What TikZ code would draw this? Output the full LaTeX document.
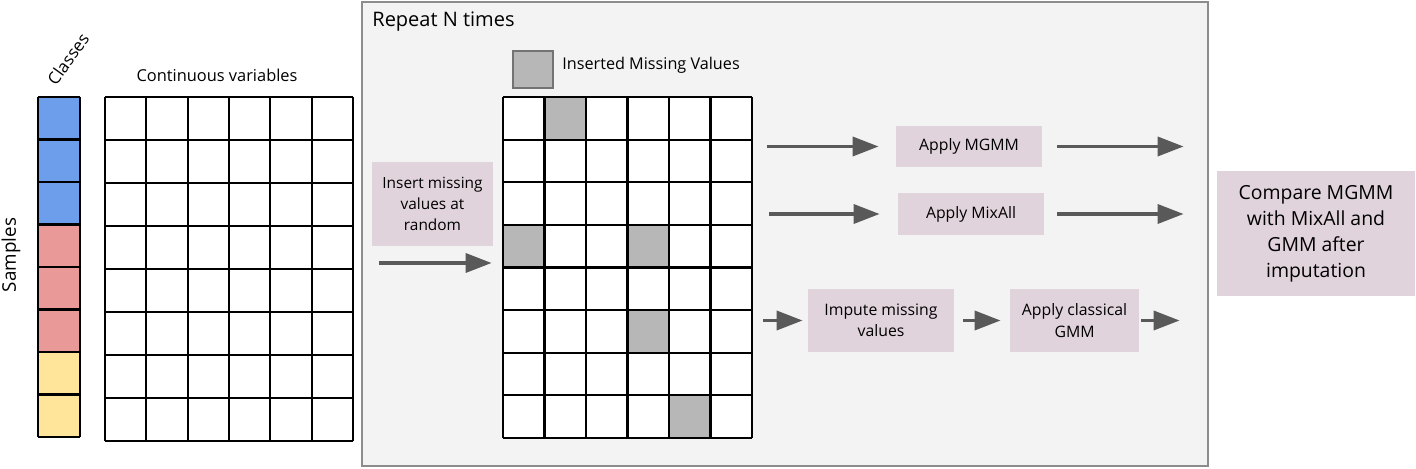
\documentclass[tikz,border=0pt]{standalone}
\usepackage{fontspec}
\setmainfont{Open Sans}
\usetikzlibrary{arrows.meta}
\definecolor{cblue}{HTML}{6D9EEB}
\definecolor{cred}{HTML}{EA9999}
\definecolor{cyellow}{HTML}{FFE599}
\definecolor{stepfill}{HTML}{E1D3DC}
\definecolor{panelfill}{HTML}{F3F3F3}
\definecolor{panelline}{HTML}{8C8C8C}
\definecolor{missfill}{HTML}{B7B7B7}
\definecolor{arrowcol}{HTML}{595959}
\tikzset{
  stepbox/.style={rectangle, fill=stepfill, draw=none, align=center, inner sep=0pt, font=\fontsize{7.9}{10.6}\selectfont},
  gridline/.style={draw=black, line width=1.1pt},
  flowarrow/.style={draw=arrowcol, line width=1.8pt, -{Triangle[length=13pt,width=9.5pt]}},
  smalltext/.style={font=\fontsize{8.2}{10.6}\selectfont, inner sep=0pt},
}
\begin{document}
\begin{tikzpicture}[x=0.5pt,y=-0.5pt]
\useasboundingbox (0,0) rectangle (1416,469);
\fill[white] (0,0) rectangle (1416,469);

% panel
\node[draw=panelline, fill=panelfill, line width=0.7pt, minimum width=423pt, minimum height=232pt, inner sep=0pt] (panel) at (785,234) {};
\node[anchor=west, inner sep=0pt, font=\fontsize{10}{12}\selectfont] (repeat) at (372,22) {Repeat N times};

% class column
\foreach \i/\c in {0/cblue,1/cblue,2/cblue,3/cred,4/cred,5/cred,6/cyellow,7/cyellow}{
  \fill[\c] (38,{97+42.5*\i}) rectangle (80,{97+42.5*(\i+1)});
}
\foreach \i in {0,...,8}{ \draw[gridline] (38,{97+42.5*\i}) -- (80,{97+42.5*\i}); }
\draw[gridline] (38,97) -- (38,437);
\draw[gridline] (80,97) -- (80,437);
\node[font=\fontsize{8.4}{10}\selectfont, inner sep=0pt, rotate=54] (classes) at (68,59) {Classes};
\node[font=\fontsize{9.4}{11}\selectfont, rotate=90, inner sep=0pt] (samples) at (11,255) {Samples};

% continuous grid
\node[minimum width=124pt, minimum height=172pt, inner sep=0pt] (grid1) at (229,269) {};
\foreach \i in {0,...,8}{ \draw[gridline] (105,{97+43*\i}) -- (353,{97+43*\i}); }
\foreach \j in {0,...,6}{ \draw[gridline] ({105+41.33*\j},97) -- ({105+41.33*\j},441); }
\node[smalltext] (contvar) at (217,75) {Continuous variables};

% legend
\node[draw=black!55, fill=missfill, line width=0.7pt, minimum width=20pt, minimum height=18.5pt, inner sep=0pt] (legsq) at (533,69.5) {};
\node[anchor=west, inner sep=0pt, font=\fontsize{8.1}{10}\selectfont] (legtext) at (562,65) {Inserted Missing Values};

% missing grid
\node[fill=white, minimum width=124.5pt, minimum height=170.5pt, inner sep=0pt] (grid2) at (627.5,267.5) {};
\foreach \r/\c in {0/1,3/0,3/3,5/3,7/4}{
  \fill[missfill] ({503+41.5*\c},{97+42.625*\r}) rectangle ({503+41.5*(\c+1)},{97+42.625*(\r+1)});
}
\foreach \i in {0,...,8}{ \draw[gridline] (503,{97+42.625*\i}) -- (752,{97+42.625*\i}); }
\foreach \j in {0,...,6}{ \draw[gridline] ({503+41.5*\j},97) -- ({503+41.5*\j},438); }

% step boxes
\node[stepbox, minimum width=60.5pt, minimum height=42pt, font=\fontsize{7.7}{10.6}\selectfont] (insert) at (432.5,204) {Insert missing\\values at\\random};
\node[stepbox, minimum width=73pt, minimum height=20.5pt] (mgmm) at (969,146.5) {Apply MGMM};
\node[stepbox, minimum width=73pt, minimum height=21pt] (mixall) at (971,214) {Apply MixAll};
\node[stepbox, minimum width=73pt, minimum height=31.5pt] (impute) at (881,320.5) {Impute missing\\values};
\node[stepbox, minimum width=64.5pt, minimum height=31.5pt] (classical) at (1074.5,320.5) {Apply classical\\GMM};
\node[stepbox, minimum width=99pt, minimum height=62.5pt, font=\fontsize{9.7}{13}\selectfont] (compare) at (1316,233.5) {Compare MGMM\\with MixAll and\\GMM after\\imputation};

% arrows
\coordinate (insstart) at (379,263);
\draw[flowarrow, shorten >=5.5pt] (insstart) -- (insstart -| grid2.west);
\draw[flowarrow, shorten <=7.5pt, shorten >=8.5pt] (mgmm.west -| grid2.east) -- (mgmm.west);
\draw[flowarrow, shorten <=7.5pt, shorten >=16.5pt] (mgmm.east) -- (mgmm.east -| compare.west);
\draw[flowarrow, shorten <=8.5pt, shorten >=9pt] (mixall.west -| grid2.east) -- (mixall.west);
\draw[flowarrow, shorten <=6.5pt, shorten >=16.5pt] (mixall.east) -- (mixall.east -| compare.west);
\draw[flowarrow, shorten <=5.5pt, shorten >=2.5pt] (impute.west -| grid2.east) -- (impute.west);
\draw[flowarrow, shorten <=4.5pt, shorten >=4.5pt] (impute.east) -- (classical.west);
\draw[flowarrow, shorten <=1pt, shorten >=18.5pt] (classical.east) -- (classical.east -| compare.west);
\end{tikzpicture}
\end{document}
